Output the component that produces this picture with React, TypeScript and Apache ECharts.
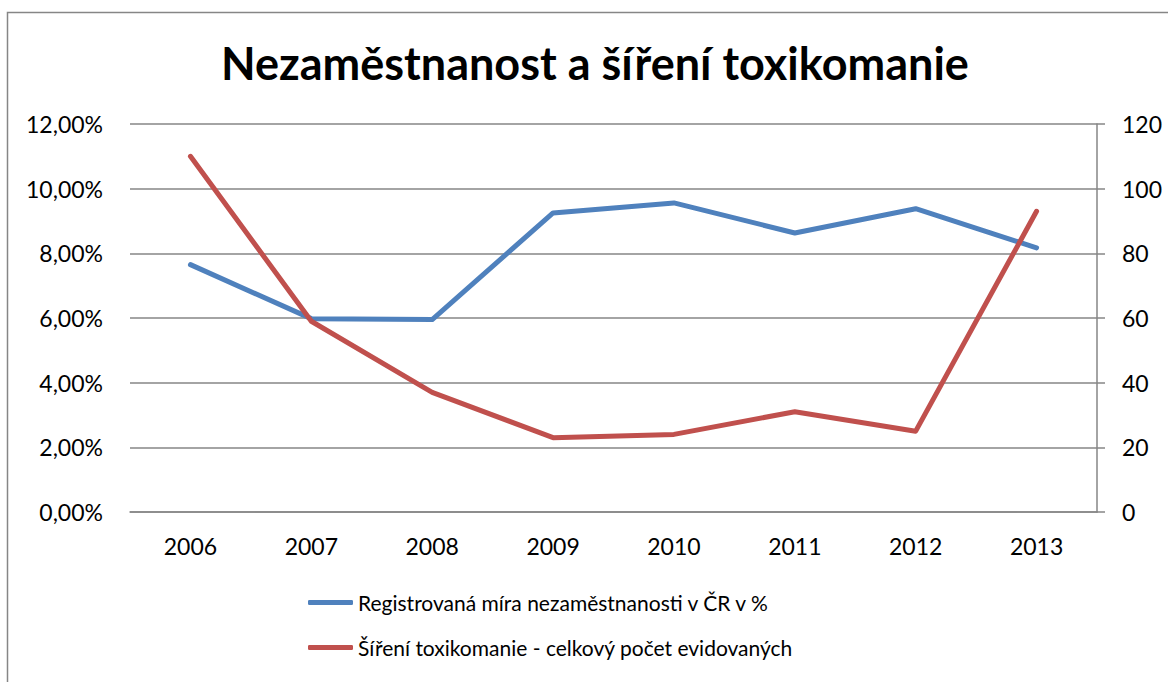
import React, { useEffect, useRef } from "react";
import * as echarts from "echarts";

const years = ["2006", "2007", "2008", "2009", "2010", "2011", "2012", "2013"];
const unemployment = [7.65, 5.98, 5.95, 9.25, 9.56, 8.63, 9.38, 8.17];
const drugSpread = [110, 59, 37, 23, 24, 31, 25, 93];
const seriesNames = [
  "Registrovaná míra nezaměstnanosti v ČR v %",
  "Šíření toxikomanie - celkový počet evidovaných",
];
const titleText = "Nezaměstnanost a šíření toxikomanie";

const FONT = "Lato, 'Open Sans', sans-serif";
const GRAY = "#868686";

export default function App() {
  const ref = useRef<HTMLDivElement>(null);
  useEffect(() => {
    document.body.style.margin = "0";
    const chart = echarts.init(ref.current!, null, { renderer: "svg" });
    chart.setOption({
      animation: false,
      backgroundColor: "#ffffff",
      textStyle: { fontFamily: FONT },
      title: {
        text: titleText,
        left: 216,
        top: 35,
        textStyle: { fontFamily: FONT, fontSize: 45, fontWeight: "bold", color: "#000" },
      },
      graphic: [
        {
          type: "rect",
          shape: { x: 7.5, y: 12.5, width: 1200, height: 700 },
          style: { fill: "none", stroke: GRAY, lineWidth: 1.5 },
          silent: true,
        },
      ],
      legend: {
        orient: "vertical",
        left: 303,
        top: 587,
        itemGap: 24,
        itemWidth: 45,
        itemHeight: 5,
        icon: "roundRect",
        textStyle: { fontFamily: FONT, fontSize: 21, color: "#000" },
        data: seriesNames,
      },
      grid: { left: 130, right: 71, top: 124, bottom: 170 },
      xAxis: {
        type: "category",
        data: years,
        boundaryGap: true,
        axisLine: { lineStyle: { color: GRAY, width: 1.5 } },
        axisTick: { show: false },
        axisLabel: { fontFamily: FONT, fontSize: 23, color: "#000", margin: 22 },
      },
      yAxis: [
        {
          type: "value",
          min: 0,
          max: 12,
          interval: 2,
          axisLine: { show: false },
          axisTick: { show: false },
          splitLine: { lineStyle: { color: GRAY, width: 1.5 } },
          axisLabel: {
            fontFamily: FONT,
            fontSize: 23,
            color: "#000",
            margin: 27,
            formatter: (v: number) => v.toFixed(2).replace(".", ",") + "%",
          },
        },
        {
          type: "value",
          position: "right",
          min: 0,
          max: 120,
          interval: 20,
          axisLine: { show: true, lineStyle: { color: GRAY, width: 1.5 } },
          axisTick: { show: true, length: 8, lineStyle: { color: GRAY, width: 1.5 } },
          splitLine: { show: false },
          axisLabel: { fontFamily: FONT, fontSize: 23, color: "#000", margin: 25 },
        },
      ],
      series: [
        {
          name: seriesNames[0],
          type: "line",
          yAxisIndex: 0,
          data: unemployment,
          symbol: "none",
          color: "#4F81BD",
          lineStyle: { width: 5, color: "#4F81BD", cap: "round", join: "round" },
        },
        {
          name: seriesNames[1],
          type: "line",
          yAxisIndex: 1,
          data: drugSpread,
          symbol: "none",
          color: "#C0504D",
          lineStyle: { width: 5, color: "#C0504D", cap: "round", join: "round" },
        },
      ],
    });
    return () => chart.dispose();
  }, []);
  return <div ref={ref} style={{ width: 1168, height: 682 }} />;
}
